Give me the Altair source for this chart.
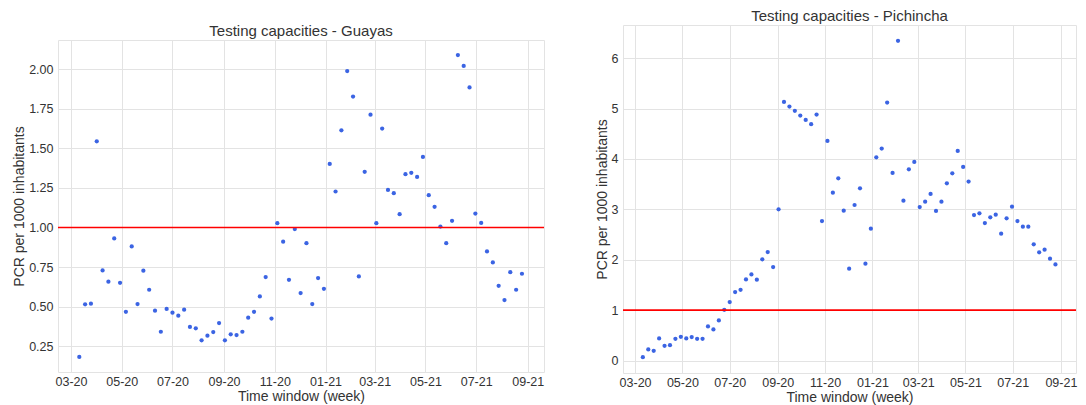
import altair as alt
import pandas as pd

# Weekly time windows (77 weeks)
weeks = pd.date_range("2020-03-11", periods=77, freq="7D").strftime("%Y-%m-%dT00:00:00").tolist()

guayas = [
    0.183, 0.515, 0.519, 1.544, 0.729, 0.658, 0.931, 0.651, 0.468, 0.880,
    0.517, 0.727, 0.607, 0.475, 0.342, 0.486, 0.462, 0.443, 0.481, 0.372,
    0.364, 0.288, 0.317, 0.340, 0.397, 0.288, 0.326, 0.321, 0.342, 0.431,
    0.468, 0.565, 0.687, 0.425, 1.027, 0.910, 0.670, 0.990, 0.586, 0.901,
    0.517, 0.681, 0.613, 1.401, 1.227, 1.613, 1.987, 1.826, 0.691, 1.351,
    1.712, 1.027, 1.624, 1.237, 1.216, 1.084, 1.336, 1.345, 1.319, 1.445,
    1.204, 1.130, 1.006, 0.901, 1.042, 2.088, 2.019, 1.884, 1.088, 1.029,
    0.849, 0.779, 0.632, 0.542, 0.718, 0.607, 0.708,
]

pichincha = [
    0.066, 0.219, 0.192, 0.437, 0.291, 0.305, 0.430, 0.470, 0.437, 0.464,
    0.430, 0.430, 0.675, 0.616, 0.795, 1.007, 1.159, 1.358, 1.404, 1.609,
    1.709, 1.603, 2.007, 2.152, 1.854, 3.000, 5.132, 5.040, 4.954, 4.861,
    4.775, 4.689, 4.881, 2.768, 4.358, 3.331, 3.616, 2.974, 1.821, 3.086,
    3.417, 1.921, 2.616, 4.033, 4.205, 5.119, 3.722, 6.344, 3.172, 3.795,
    3.940, 3.046, 3.152, 3.305, 2.967, 3.152, 3.517, 3.715, 4.159, 3.841,
    3.550, 2.887, 2.921, 2.728, 2.841, 2.894, 2.517, 2.821, 3.053, 2.768,
    2.656, 2.656, 2.305, 2.146, 2.199, 2.020, 1.907,
]

threshold = [1.0]

guayas_ticks = [0.25, 0.5, 0.75, 1.0, 1.25, 1.5, 1.75, 2.0]
pichincha_ticks = [0, 1, 2, 3, 4, 5, 6]
month_ticks = [(2020, 3), (2020, 5), (2020, 7), (2020, 9), (2020, 11),
               (2021, 1), (2021, 3), (2021, 5), (2021, 7), (2021, 9)]

FONT = "Liberation Sans"
TEXT = "#333333"
GRID = "#e3e3e3"
POINT = "#3b64e3"

df_g = pd.DataFrame({"date": weeks, "value": guayas})
df_p = pd.DataFrame({"date": weeks, "value": pichincha})
df_t = pd.DataFrame({"value": threshold})

x_domain = [
    alt.DateTime(year=2020, month=2, date=14, hours=10),
    alt.DateTime(year=2021, month=9, date=20, hours=12),
]
x_values = [alt.DateTime(year=y, month=m, date=1) for y, m in month_ticks]


def panel(df, ydomain, yticks, yfmt, title, width, height):
    x = alt.X(
        "date:T",
        scale=alt.Scale(domain=x_domain),
        axis=alt.Axis(values=x_values, format="%m-%y", title="Time window (week)",
                      labelPadding=3, titlePadding=2, labelFlush=False),
    )
    y = alt.Y(
        "value:Q",
        scale=alt.Scale(domain=ydomain, nice=False, zero=False),
        axis=alt.Axis(values=yticks, format=yfmt, title="PCR per 1000 inhabitants",
                      labelPadding=5, titlePadding=2, labelFlush=False),
    )
    pts = alt.Chart(df).mark_circle(size=18, opacity=1, color=POINT).encode(x=x, y=y)
    rule = alt.Chart(df_t).mark_rule(color="#ff0000", strokeWidth=1.6).encode(
        y=alt.Y("value:Q")
    )
    return alt.layer(pts, rule).properties(width=width, height=height, title=title)


left = panel(df_g, [0.088, 2.183], guayas_ticks, ".2f",
             "Testing capacities - Guayas", 486, 332)
right = panel(df_p, [-0.248, 6.658], pichincha_ticks, "d",
              "Testing capacities - Pichincha", 453, 348)

spacer = (
    alt.Chart(pd.DataFrame({"a": [0]}))
    .mark_point(opacity=0, size=1, strokeWidth=0)
    .encode(x=alt.value(0), y=alt.value(0))
    .properties(width=480, height=1, view=alt.ViewBackground(stroke="transparent"))
)

left_col = alt.vconcat(spacer, left, spacing=-4)
right_col = alt.vconcat(right, spacing=0)

chart = (
    alt.hconcat(left_col, right_col, spacing=48)
    .properties(padding={"left": 4, "top": 0, "right": 0, "bottom": 0})
    .configure(font=FONT)
    .configure_view(stroke=GRID, strokeWidth=1)
    .configure_axis(
        grid=True, gridColor=GRID, gridWidth=1, domain=False, ticks=False,
        labelFont=FONT, titleFont=FONT, labelFontSize=12.5, titleFontSize=14,
        labelColor=TEXT, titleColor=TEXT, titleFontWeight="normal",
    )
    .configure_title(font=FONT, fontSize=15, fontWeight="normal", color=TEXT,
                     offset=1, anchor="middle")
)

chart.save("out.html", embed_options={"renderer": "svg", "actions": False})
